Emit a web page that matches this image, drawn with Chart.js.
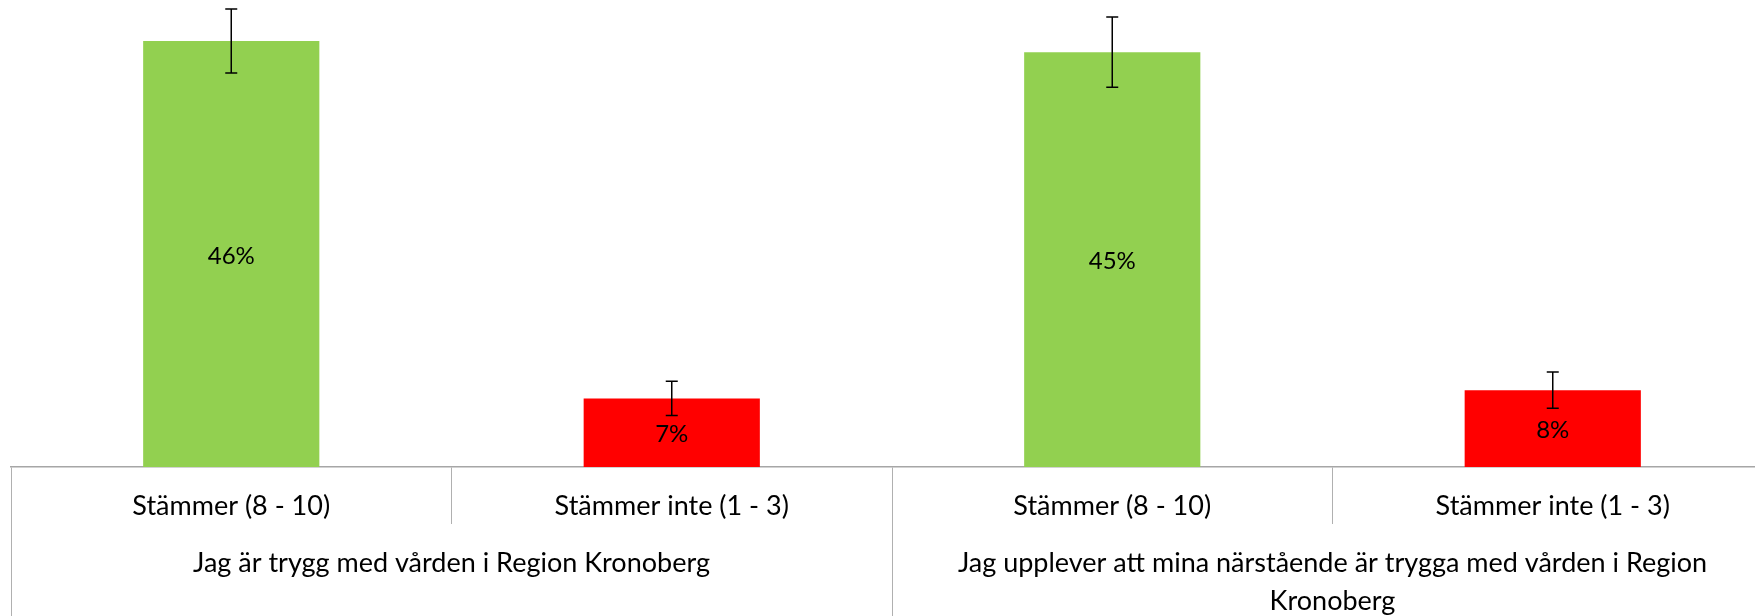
<!DOCTYPE html>
<html>
<head>
<meta charset="utf-8">
<script src="https://cdn.jsdelivr.net/npm/chart.js@4/dist/chart.umd.min.js"></script>
<style>
  html, body { margin: 0; padding: 0; background: #fff; overflow: hidden; }
  #wrap { position: relative; width: 1773px; height: 616px; }
</style>
</head>
<body>
<div id="wrap"><canvas id="chart"></canvas></div>
<script>
// ── data ──
const categories = ['Stämmer (8 - 10)', 'Stämmer inte (1 - 3)', 'Stämmer (8 - 10)', 'Stämmer inte (1 - 3)'];
const groups = [
  'Jag är trygg med vården i Region Kronoberg',
  ['Jag upplever att mina närstående är trygga med vården i Region', 'Kronoberg']
];
const values = [46.0, 7.4, 44.8, 8.3];      // percent
const errors = [3.45, 1.85, 3.8, 1.95];    // +/- percent
const barColors = ['#92d050', '#ff0000', '#92d050', '#ff0000'];

const FONT = 'Lato, "Open Sans", sans-serif';
const lineGrey = '#a6a6a6';

// error bars drawn through the y scale
const errorBars = {
  id: 'errorBars',
  afterDatasetsDraw(chart) {
    const { ctx, scales: { y } } = chart;
    const meta = chart.getDatasetMeta(0);
    ctx.save();
    ctx.strokeStyle = '#000';
    ctx.lineWidth = 1.5;
    meta.data.forEach((bar, i) => {
      const top = y.getPixelForValue(values[i] + errors[i]);
      const bot = y.getPixelForValue(values[i] - errors[i]);
      ctx.beginPath();
      ctx.moveTo(bar.x, top); ctx.lineTo(bar.x, bot);
      ctx.moveTo(bar.x - 6, top); ctx.lineTo(bar.x + 6, top);
      ctx.moveTo(bar.x - 6, bot); ctx.lineTo(bar.x + 6, bot);
      ctx.stroke();
    });
    ctx.restore();
  }
};

// value labels centred in each bar
const barLabels = {
  id: 'barLabels',
  afterDraw(chart) {
    const { ctx } = chart;
    const meta = chart.getDatasetMeta(0);
    ctx.save();
    ctx.fillStyle = '#000';
    ctx.font = '24px ' + FONT;
    ctx.textAlign = 'center';
    ctx.textBaseline = 'middle';
    meta.data.forEach((bar, i) => {
      ctx.fillText(Math.round(values[i]) + '%', bar.x, (bar.y + bar.base) / 2 + 2);
    });
    ctx.restore();
  }
};

new Chart(document.getElementById('chart'), {
  type: 'bar',
  data: {
    labels: categories,
    datasets: [{ data: values, backgroundColor: barColors, borderWidth: 0, barPercentage: 0.4, categoryPercentage: 1 }]
  },
  options: {
    responsive: true,
    maintainAspectRatio: false,
    animation: false,
    layout: { padding: { left: 11, top: 4, right: 0, bottom: 0 } },
    plugins: { legend: { display: false }, tooltip: { enabled: false } },
    scales: {
      y: { display: false, min: 0, max: 50 },
      x: {
        position: 'bottom',
        weight: 0,
        offset: true,
        border: { display: true, color: lineGrey, width: 1.5 },
        grid: { offset: true, drawOnChartArea: false, drawTicks: true, tickLength: 57, tickColor: '#b0b0b0', tickWidth: 1 },
        ticks: { color: '#000', font: { family: FONT, size: 27 }, padding: -34, autoSkip: false, maxRotation: 0 },
        afterFit: (axis) => { axis.height = 54; }
      },
      x2: {
        type: 'category',
        position: 'bottom',
        weight: 1,
        labels: groups,
        offset: true,
        border: { display: false },
        grid: { offset: true, drawOnChartArea: false, drawTicks: true, tickLength: 100, tickColor: '#b0b0b0', tickWidth: 1 },
        ticks: { color: '#000', font: { family: FONT, size: 27, lineHeight: 1.41 }, padding: -77, autoSkip: false, maxRotation: 0 },
        afterFit: (axis) => { axis.height = 95; }
      }
    }
  },
  plugins: [errorBars, barLabels]
});
</script>
</body>
</html>
